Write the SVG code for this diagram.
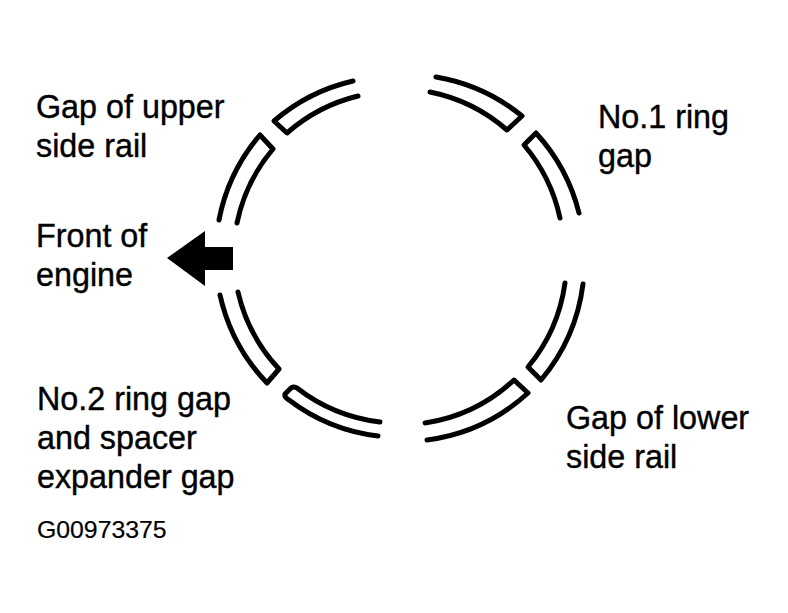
<svg xmlns="http://www.w3.org/2000/svg" width="788" height="613" viewBox="0 0 788 613">
<style>
text{font-family:"Liberation Sans",Arial,sans-serif;font-size:32.3px;fill:#000;stroke:#000;stroke-width:.4}
.id{font-size:24.8px;stroke-width:.2}
.ring{fill:none;stroke:#000;stroke-width:5;stroke-linecap:round;stroke-linejoin:round}
</style>
<rect width="788" height="613" fill="#fff"/>
<g id="ring-segments">
<path class="ring" d="M353 81A185 185 0 0 0 274 121L287 133A167 167 0 0 1 358 96"/>
<path class="ring" d="M219 220A185 185 0 0 1 260 135L273 149A167 167 0 0 0 237 223"/>
<path class="ring" d="M436 77A185 185 0 0 1 522 116L507 130A167 167 0 0 0 430 92"/>
<path class="ring" d="M579 213A185 185 0 0 0 536 133L524 145A167 167 0 0 1 560 218"/>
<path class="ring" d="M220 295A185 185 0 0 0 267 383L279 369A167 167 0 0 1 238 292"/>
<path class="ring" d="M378 436A183 183 0 0 1 289 400Q284 397 285 394L291 388Q293 386 297 388A167 167 0 0 0 380 422"/>
<path class="ring" d="M583 284A185 185 0 0 1 541 380L528 367A167 167 0 0 0 565 283"/>
<path class="ring" d="M427 440A185 185 0 0 0 528 393L514 380A167 167 0 0 1 425 423"/>
</g>
<g id="arrow"><path d="M167 258L205 231V247H233V270H205V286Z" fill="#000"/></g>
<g id="label-upper"><text x="36" y="118">Gap of upper</text><text x="36" y="157">side rail</text></g>
<g id="label-no1"><text x="598" y="128">No.1 ring</text><text x="598" y="167">gap</text></g>
<g id="label-front"><text x="36" y="247">Front of</text><text x="36" y="286">engine</text></g>
<g id="label-no2"><text x="37" y="410">No.2 ring gap</text><text x="37" y="449">and spacer</text><text x="37" y="488">expander gap</text></g>
<g id="label-lower"><text x="566" y="429">Gap of lower</text><text x="566" y="468">side rail</text></g>
<g id="figure-id"><text class="id" x="37" y="538">G00973375</text></g>
</svg>
